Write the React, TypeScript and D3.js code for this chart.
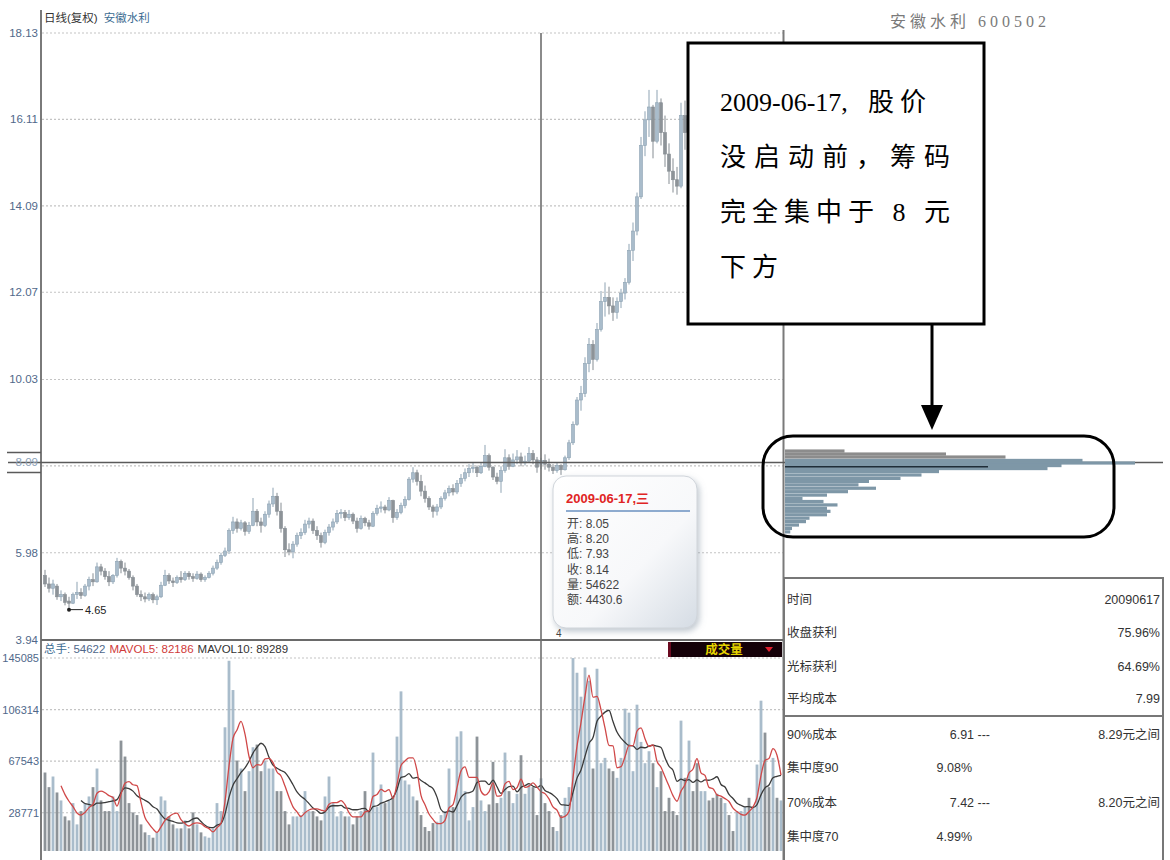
import React from 'react';
import * as d3 from 'd3';

// Daily bars of 安徽水利 (600502), indexed by trading day.
const openPrices = [
  5.45, 5.25, 5.15, 5.2, 4.95, 5.0, 4.85, 4.8, 5.0, 5.05,
  4.98, 5.2, 5.35, 5.3, 5.65, 5.55, 5.42, 5.3, 5.45, 5.78,
  5.62, 5.55, 5.4, 5.2, 5.0, 4.95, 4.9, 5.0, 4.88, 4.95,
  5.22, 5.45, 5.32, 5.28, 5.4, 5.35, 5.5, 5.42, 5.38, 5.48,
  5.35, 5.4, 5.5, 5.62, 5.75, 5.92, 6.02, 6.5, 6.7, 6.55,
  6.68, 6.48, 6.62, 6.95, 6.7, 6.62, 6.88, 7.12, 7.3, 6.95,
  6.55, 6.05, 6.0, 6.18, 6.38, 6.45, 6.65, 6.72, 6.5, 6.38,
  6.22, 6.45, 6.58, 6.7, 6.9, 6.92, 6.8, 6.88, 6.72, 6.55,
  6.78, 6.68, 6.6, 6.9, 7.02, 7.05, 6.98, 7.2, 6.8, 6.92,
  7.08, 7.22, 7.7, 7.85, 7.65, 7.42, 7.25, 7.05, 6.95, 7.05,
  7.25, 7.38, 7.48, 7.4, 7.6, 7.72, 7.85, 7.95, 7.98, 7.85,
  8.0, 8.25, 7.98, 7.75, 7.65, 7.9, 8.2, 8.0, 8.15, 8.22,
  8.08, 8.12, 8.3, 8.15, 8.05, 8.14, 8.05, 7.98, 7.9, 8.02,
  7.92, 8.2, 8.55, 8.98, 9.55, 9.7, 10.4, 10.85, 10.5, 11.2,
  11.85, 11.95, 11.75, 11.6, 11.85, 12.05, 12.3, 13.05, 13.5, 14.3,
  15.5, 16.1, 16.4, 15.6, 16.5, 15.8, 15.3, 14.9, 14.7, 14.55,
  16.2, 15.8, 16.2, 15.9, 15.5, 15.7, 16.05, 15.85, 15.55, 15.4,
  15.2, 15.35, 15.1, 14.95, 15.15, 15.3, 15.45, 15.3, 15.6, 16.2,
  16.6, 16.3, 16.1, 16.5, 16.15,
];
const highPrices = [
  5.58, 5.4, 5.35, 5.25, 5.1, 5.05, 4.95, 5.05, 5.3, 5.15,
  5.25, 5.42, 5.5, 5.75, 5.72, 5.62, 5.55, 5.48, 5.86, 5.82,
  5.75, 5.6, 5.45, 5.25, 5.1, 5.05, 5.05, 5.05, 5.0, 5.3,
  5.58, 5.5, 5.4, 5.45, 5.55, 5.55, 5.55, 5.5, 5.55, 5.52,
  5.45, 5.55, 5.68, 5.82, 5.98, 6.1, 6.55, 6.82, 6.78, 6.75,
  6.72, 6.7, 7.26, 7.0, 6.8, 6.95, 7.2, 7.5, 7.38, 7.15,
  6.6, 6.2, 6.25, 6.45, 6.55, 6.75, 6.8, 6.78, 6.6, 6.45,
  6.52, 6.65, 6.78, 6.98, 7.0, 6.98, 6.98, 6.92, 6.8, 6.85,
  6.82, 6.75, 6.95, 7.1, 7.18, 7.1, 7.28, 7.22, 7.0, 7.15,
  7.3, 7.75, 7.98, 7.92, 7.8, 7.55, 7.3, 7.1, 7.12, 7.3,
  7.45, 7.55, 7.58, 7.68, 7.82, 7.95, 8.05, 8.1, 8.02, 8.08,
  8.5, 8.3, 8.0, 7.85, 8.0, 8.4, 8.28, 8.3, 8.38, 8.32,
  8.25, 8.45, 8.38, 8.22, 8.2, 8.28, 8.18, 8.05, 8.1, 8.05,
  8.25, 8.62, 9.05, 9.62, 9.88, 10.55, 11.0, 10.95, 11.35, 12.1,
  12.3, 12.2, 11.95, 11.95, 12.15, 12.4, 13.2, 13.7, 14.4, 15.7,
  16.3, 16.8, 16.45, 16.8, 16.6, 16.2, 15.55, 15.2, 15.0, 16.5,
  16.55, 16.4, 16.5, 16.1, 15.9, 16.2, 16.3, 16.0, 15.8, 15.6,
  15.5, 15.45, 15.3, 15.25, 15.4, 15.55, 15.6, 15.7, 16.3, 16.9,
  16.8, 16.5, 16.7, 16.6, 16.4,
];
const lowPrices = [
  5.18, 5.05, 5.0, 4.88, 4.85, 4.75, 4.65, 4.78, 4.9, 4.9,
  4.95, 5.1, 5.2, 5.28, 5.45, 5.35, 5.2, 5.25, 5.4, 5.5,
  5.45, 5.35, 5.1, 4.95, 4.85, 4.82, 4.85, 4.8, 4.76, 4.92,
  5.2, 5.25, 5.18, 5.25, 5.28, 5.32, 5.35, 5.3, 5.35, 5.3,
  5.3, 5.38, 5.45, 5.58, 5.7, 5.88, 5.95, 6.42, 6.45, 6.5,
  6.38, 6.42, 6.6, 6.6, 6.45, 6.58, 6.8, 7.05, 6.85, 6.45,
  5.88, 5.92, 5.85, 6.12, 6.3, 6.4, 6.55, 6.42, 6.28, 6.1,
  6.18, 6.38, 6.5, 6.65, 6.78, 6.72, 6.75, 6.65, 6.45, 6.52,
  6.6, 6.52, 6.58, 6.85, 6.92, 6.9, 6.95, 6.68, 6.75, 6.88,
  7.02, 7.2, 7.62, 7.55, 7.3, 7.15, 6.98, 6.8, 6.85, 7.0,
  7.2, 7.3, 7.32, 7.35, 7.52, 7.65, 7.75, 7.85, 7.75, 7.82,
  7.98, 7.9, 7.68, 7.58, 7.38, 7.85, 7.92, 7.98, 8.05, 8.0,
  8.02, 8.1, 8.05, 7.85, 7.93, 7.92, 7.88, 7.82, 7.85, 7.8,
  7.9, 8.15, 8.5, 8.95, 9.3, 9.62, 10.2, 10.25, 10.45, 11.15,
  11.5, 11.55, 11.4, 11.45, 11.7, 11.9, 12.25, 12.8, 13.4, 14.25,
  15.25, 15.7, 15.2, 15.55, 15.5, 15.0, 14.6, 14.4, 14.35, 14.5,
  15.4, 15.6, 15.7, 15.3, 15.2, 15.6, 15.7, 15.4, 15.2, 15.0,
  14.9, 15.0, 14.8, 14.85, 15.0, 15.1, 15.2, 15.25, 15.55, 16.0,
  16.1, 15.9, 16.0, 16.0, 15.9,
];
const closePrices = [
  5.25, 5.15, 5.25, 4.95, 5.0, 4.82, 4.8, 5.0, 5.05, 4.98,
  5.2, 5.35, 5.3, 5.65, 5.55, 5.42, 5.3, 5.45, 5.78, 5.62,
  5.55, 5.4, 5.2, 5.0, 4.95, 4.9, 5.0, 4.88, 4.95, 5.22,
  5.45, 5.32, 5.28, 5.4, 5.35, 5.5, 5.42, 5.38, 5.48, 5.35,
  5.4, 5.5, 5.62, 5.75, 5.92, 6.02, 6.5, 6.7, 6.55, 6.68,
  6.48, 6.62, 6.95, 6.7, 6.62, 6.88, 7.12, 7.3, 6.95, 6.55,
  6.05, 6.0, 6.18, 6.38, 6.45, 6.65, 6.72, 6.5, 6.38, 6.22,
  6.45, 6.58, 6.7, 6.9, 6.92, 6.8, 6.88, 6.72, 6.55, 6.78,
  6.68, 6.6, 6.9, 7.02, 7.05, 6.98, 7.2, 6.8, 6.92, 7.08,
  7.22, 7.7, 7.85, 7.65, 7.42, 7.25, 7.05, 6.95, 7.05, 7.25,
  7.38, 7.48, 7.4, 7.6, 7.72, 7.85, 7.95, 7.98, 7.85, 8.0,
  8.25, 7.98, 7.75, 7.65, 7.9, 8.2, 8.0, 8.15, 8.22, 8.08,
  8.12, 8.3, 8.15, 7.98, 8.14, 8.05, 7.98, 7.9, 8.02, 7.92,
  8.2, 8.55, 8.98, 9.55, 9.7, 10.4, 10.85, 10.5, 11.2, 11.85,
  11.95, 11.75, 11.6, 11.85, 12.05, 12.3, 13.05, 13.5, 14.3, 15.5,
  16.1, 16.4, 15.6, 16.5, 15.8, 15.3, 14.9, 14.7, 14.55, 16.2,
  15.8, 16.2, 15.9, 15.5, 15.7, 16.05, 15.85, 15.55, 15.4, 15.2,
  15.35, 15.1, 14.95, 15.15, 15.3, 15.45, 15.3, 15.6, 16.2, 16.6,
  16.3, 16.1, 16.5, 16.15, 16.2,
];
// 成交量 (手)
const volumes = [
  59000, 48000, 56000, 44000, 38000, 26000, 23000, 36000, 20000, 30000,
  36000, 41000, 48000, 62000, 38000, 30000, 30000, 41000, 30000, 83000,
  71000, 36000, 29000, 27000, 20000, 14000, 12000, 10000, 14000, 41000,
  38000, 26000, 20000, 17000, 17000, 23000, 17000, 29000, 20000, 14000,
  11000, 10000, 17000, 36000, 30000, 93000, 143000, 121000, 68000, 62000,
  45000, 60000, 78000, 80000, 60000, 68000, 62000, 62000, 45000, 45000,
  30000, 20000, 26000, 26000, 27000, 45000, 30000, 30000, 26000, 23000,
  41000, 56000, 36000, 26000, 30000, 26000, 26000, 20000, 26000, 30000,
  45000, 30000, 74000, 33000, 50000, 36000, 38000, 41000, 86000, 120000,
  53000, 50000, 41000, 38000, 27000, 18000, 15000, 21000, 22000, 27000,
  30000, 62000, 33000, 86000, 90000, 45000, 23000, 33000, 86000, 38000,
  30000, 35000, 67000, 36000, 40000, 74000, 45000, 36000, 43000, 72000,
  43000, 50000, 48000, 27000, 54622, 36000, 30000, 18000, 15000, 27000,
  40000, 48000, 145000, 134000, 116000, 138000, 128000, 62000, 137000, 66000,
  70000, 62000, 60000, 55000, 70000, 107000, 104000, 60000, 110000, 82000,
  66000, 75000, 66000, 48000, 60000, 30000, 40000, 30000, 27000, 98000,
  55000, 83000, 45000, 66000, 45000, 45000, 38000, 40000, 43000, 40000,
  36000, 27000, 15000, 30000, 30000, 33000, 40000, 33000, 65000, 113000,
  89000, 48000, 70000, 40000, 38000,
];

const priceTicks = [18.13, 16.11, 14.09, 12.07, 10.03, 8.01, 5.98, 3.94];
const priceTickLabels = ['18.13', '16.11', '14.09', '12.07', '10.03', '', '5.98', '3.94'];
const volumeTicks = [145085, 106314, 67543, 28771];

// 筹码分布: price level -> share of chips
const chipPrices = [
  8.36, 8.29, 8.22, 8.14, 8.08, 8.02, 7.95, 7.88, 7.8, 7.72, 7.65, 7.57, 7.49,
  7.41, 7.33, 7.25, 7.18, 7.1, 7.02, 6.95, 6.87, 6.79, 6.71, 6.63, 6.55, 6.47,
];
const chipShares = [
  17, 46, 63, 85, 100, 79, 75, 44, 39, 33, 24, 21, 26,
  18, 12, 5, 11, 15, 12, 13, 12, 7, 6, 4, 2, 1.5,
];
const avgCost = 7.99;
const avgCostShare = 58;

const cursorIndex = 124;
const cursorPrice = 8.09;
const cursorDate = '2009-06-17,三';
const lowMarkIndex = 6;

const tooltipRows = [
  ['开', '8.05'],
  ['高', '8.20'],
  ['低', '7.93'],
  ['收', '8.14'],
  ['量', '54622'],
  ['额', '4430.6'],
];

const statRows = [
  ['时间', '', '20090617'],
  ['收盘获利', '', '75.96%'],
  ['光标获利', '', '64.69%'],
  ['平均成本', '', '7.99'],
  ['90%成本', '6.91 ---', '8.29元之间'],
  ['集中度90', '9.08%', ''],
  ['70%成本', '7.42 ---', '8.20元之间'],
  ['集中度70', '4.99%', ''],
];

const SANS = '"Liberation Sans", Arial, "Noto Sans CJK SC", sans-serif';
const SERIF = '"Liberation Serif", "Times New Roman", "Noto Sans CJK SC", serif';
const AXIS_COLOR = '#50688a';
const UP_FILL = '#a9bccb';
const UP_STROKE = '#8ea3b3';
const DOWN_FILL = '#8d9398';

function movingAverage(values: number[], w: number): (number | null)[] {
  return values.map((_, i) => (i < w - 1 ? null : (d3.mean(values.slice(i - w + 1, i + 1)) as number)));
}

export default function App() {
  const W = 1170;
  const H = 860;
  const n = volumes.length;

  const x = d3.scaleBand<number>().domain(d3.range(n)).range([43, 783]);
  const cx = (i: number) => (x(i) ?? 0) + x.bandwidth() / 2;
  const yP = d3.scaleLinear().domain([3.94, 18.13]).range([640, 33]);
  const yV = d3.scaleLinear().domain([0, 145085]).range([851, 658]);
  const chipX = d3.scaleLinear().domain([0, 100]).range([785, 1135]);

  const ma5 = movingAverage(volumes, 5);
  const ma10 = movingAverage(volumes, 10);
  const maLine = d3
    .line<number | null>()
    .defined((d) => d != null)
    .x((_, i) => cx(i))
    .y((d) => yV(d as number))
    .curve(d3.curveMonotoneX);

  const isUp = (i: number) => closePrices[i] >= openPrices[i];
  const cursorX = cx(cursorIndex);
  const cursorY = yP(cursorPrice);
  const cursorClose = closePrices[cursorIndex];
  const chipStep = Math.abs(yP(chipPrices[0]) - yP(chipPrices[1]));

  return (
    <svg
      width={W}
      height={H}
      viewBox={`0 0 ${W} ${H}`}
      style={{ position: 'absolute', left: 0, top: 0, background: '#fff' }}
    >
      <defs>
        <linearGradient id="tipFill" x1="0" y1="0" x2="1" y2="1">
          <stop offset="0%" stopColor="#ffffff" />
          <stop offset="60%" stopColor="#f7f8fa" />
          <stop offset="100%" stopColor="#d5dce4" />
        </linearGradient>
        <filter id="tipShadow" x="-20%" y="-20%" width="140%" height="140%">
          <feDropShadow dx="2" dy="3" stdDeviation="3" floodColor="#8090a0" floodOpacity="0.5" />
        </filter>
      </defs>

      <rect x={0} y={0} width={W} height={H} fill="#fff" />

      {/* price grid */}
      {priceTicks.map((t, k) => (
        <g key={`pt${k}`}>
          <line x1={42} x2={783} y1={yP(t)} y2={yP(t)} stroke="#c4c4c4" strokeWidth={1.2} strokeDasharray="2,2" />
          {priceTickLabels[k] && (
            <text x={38} y={yP(t) + 4} textAnchor="end" fontSize={11.5} fontFamily={SANS} fill={AXIS_COLOR}>
              {priceTickLabels[k]}
            </text>
          )}
        </g>
      ))}

      {/* volume grid */}
      {volumeTicks.map((t, k) => (
        <g key={`vt${k}`}>
          <line x1={42} x2={783} y1={yV(t)} y2={yV(t)} stroke="#c4c4c4" strokeWidth={1.2} strokeDasharray="2,2" />
          <text x={39} y={yV(t) + 4} textAnchor="end" fontSize={11} fontFamily={SANS} fill={AXIS_COLOR}>
            {t}
          </text>
        </g>
      ))}

      {/* candles */}
      {closePrices.map((c, i) => {
        const o = openPrices[i];
        const up = isUp(i);
        const top = yP(Math.max(o, c));
        const bot = yP(Math.min(o, c));
        return (
          <g key={`c${i}`}>
            <line
              x1={cx(i)}
              x2={cx(i)}
              y1={yP(highPrices[i])}
              y2={yP(lowPrices[i])}
              stroke={up ? UP_STROKE : '#868d93'}
              strokeWidth={1}
            />
            <rect
              x={cx(i) - 1.5}
              y={top}
              width={3}
              height={Math.max(1.2, bot - top)}
              fill={up ? UP_FILL : DOWN_FILL}
              stroke={up ? UP_STROKE : '#868d93'}
              strokeWidth={0.6}
            />
          </g>
        );
      })}

      {/* volume bars */}
      {volumes.map((v, i) => (
        <rect
          key={`v${i}`}
          x={cx(i) - 1.4}
          y={yV(v)}
          width={2.8}
          height={yV(0) - yV(v)}
          fill={isUp(i) ? UP_FILL : DOWN_FILL}
        />
      ))}

      {/* volume moving averages */}
      <path d={maLine(ma10) ?? ''} fill="none" stroke="#3a3a3a" strokeWidth={1.3} />
      <path d={maLine(ma5) ?? ''} fill="none" stroke="#d04848" strokeWidth={1.3} />

      {/* frame */}
      <line x1={41} x2={41} y1={10} y2={H} stroke="#7a7a7a" strokeWidth={2} />
      <line x1={783.5} x2={783.5} y1={30} y2={H} stroke="#7a7a7a" strokeWidth={2} />
      <line x1={41} x2={783} y1={640} y2={640} stroke="#6a6a6a" strokeWidth={2} />

      {/* crosshair */}
      <line x1={cursorX} x2={cursorX} y1={33} y2={851} stroke="#6e6e6e" strokeWidth={1.6} />
      <line x1={8} x2={1163} y1={cursorY} y2={cursorY} stroke="#5a5a5a" strokeWidth={1.6} />
      <line x1={7} x2={41} y1={cursorY - 10} y2={cursorY - 10} stroke="#5a5a5a" strokeWidth={1.6} />
      <line x1={7} x2={41} y1={cursorY + 10} y2={cursorY + 10} stroke="#5a5a5a" strokeWidth={1.6} />
      <text x={38} y={cursorY + 4} textAnchor="end" fontSize={11.5} fontFamily={SANS} fill="#8aa0b8">
        {cursorPrice.toFixed(2)}
      </text>

      {/* low marker */}
      <circle cx={cx(lowMarkIndex)} cy={yP(lowPrices[lowMarkIndex])} r={2} fill="#222" />
      <line
        x1={cx(lowMarkIndex)}
        x2={cx(lowMarkIndex) + 14}
        y1={yP(lowPrices[lowMarkIndex])}
        y2={yP(lowPrices[lowMarkIndex])}
        stroke="#222"
        strokeWidth={1}
      />
      <text x={cx(lowMarkIndex) + 16} y={yP(lowPrices[lowMarkIndex]) + 4} fontSize={11} fontFamily={SANS} fill="#222">
        {lowPrices[lowMarkIndex].toFixed(2)}
      </text>

      {/* titles */}
      <text x={44} y={22} fontSize={11.5} fontFamily={SANS}>
        <tspan fill="#333">日线(复权)</tspan>
        <tspan fill="#3c6c92" dx={6}>安徽水利</tspan>
      </text>
      <text x={890} y={27} fontSize={16} fontFamily={SERIF} fill="#7a7a7a" letterSpacing={4}>
        安徽水利 600502
      </text>

      {/* volume header */}
      <text x={44} y={653} fontSize={11.5} fontFamily={SANS}>
        <tspan fill="#3c6c92">总手</tspan>
        <tspan fill="#50688a">: {volumes[cursorIndex]}</tspan>
        <tspan fill="#d03a3a" dx={4}>MAVOL5: 82186</tspan>
        <tspan fill="#333" dx={4}>MAVOL10: 89289</tspan>
      </text>
      <rect x={668} y={642} width={114} height={15} fill="#140008" />
      <rect x={668} y={642} width={3} height={15} fill="#6a0a20" />
      <text x={724} y={654} textAnchor="middle" fontSize={12.5} fontFamily={SANS} fill="#e6d400" fontWeight="bold">
        成交量
      </text>
      <path d="M765,647 L773,647 L769,652 Z" fill="#e02030" />

      {/* chip distribution */}
      {chipPrices.map((p, k) => (
        <rect
          key={`chip${k}`}
          x={chipX(0)}
          y={yP(p) - chipStep / 2}
          width={chipX(chipShares[k]) - chipX(0)}
          height={chipStep + 0.2}
          fill={p > cursorClose ? '#8c8c8c' : '#7e97a7'}
        />
      ))}
      <line
        x1={chipX(0)}
        x2={chipX(avgCostShare)}
        y1={yP(avgCost)}
        y2={yP(avgCost)}
        stroke="#1f2d38"
        strokeWidth={1.5}
      />

      {/* tooltip */}
      <g filter="url(#tipShadow)">
        <rect x={553} y={476} width={144} height={152} rx={13} fill="url(#tipFill)" stroke="#cfd4da" />
      </g>
      <text x={566} y={503} fontSize={13} fontFamily={SANS} fill="#e02424" fontWeight="bold">
        {cursorDate}
      </text>
      <line x1={566} x2={690} y1={511} y2={511} stroke="#6a90c0" strokeWidth={1.4} />
      {tooltipRows.map((r, k) => (
        <text key={`tr${k}`} x={567} y={528 + k * 15.2} fontSize={12} fontFamily={SANS} fill="#444">
          {r[0]}: {r[1]}
        </text>
      ))}
      <text x={556} y={637} fontSize={10} fontFamily={SANS} fill="#444">
        4
      </text>

      {/* statistics table */}
      <rect x={784} y={578} width={379} height={290} fill="none" stroke="#777" strokeWidth={2} />
      <line x1={784} x2={1163} y1={716} y2={716} stroke="#777" strokeWidth={2} />
      {statRows.map((r, k) => {
        const y = [604, 637, 671, 703, 739, 772, 807, 841][k];
        return (
          <g key={`sr${k}`} fontSize={12.5} fontFamily={SANS} fill="#333">
            <text x={787} y={y}>{r[0]}</text>
            {r[1] && (
              <text x={r[1].includes('---') ? 990 : 972} y={y} textAnchor="end">
                {r[1]}
              </text>
            )}
            {r[2] && (
              <text x={1160} y={y} textAnchor="end">
                {r[2]}
              </text>
            )}
          </g>
        );
      })}

      {/* annotation */}
      <rect x={688} y={43} width={296} height={281} fill="#fff" stroke="#000" strokeWidth={3} />
      <g fontSize={26} fontFamily={SERIF} fill="#000">
        <text x={720} y={111}>2009-06-17,</text>
        <text x={868} y={111} letterSpacing={6}>股价</text>
        <text x={720} y={166} textLength={230} lengthAdjust="spacing">没启动前，筹码</text>
        <text x={720} y={221} textLength={230} lengthAdjust="spacing">完全集中于 8 元</text>
        <text x={720} y={276} letterSpacing={6}>下方</text>
      </g>
      <line x1={932} x2={932} y1={324} y2={410} stroke="#000" strokeWidth={3} />
      <path d="M921,405 L943,405 L932,430 Z" fill="#000" />
      <rect x={763} y={436} width={351} height={101} rx={30} ry={30} fill="none" stroke="#000" strokeWidth={3} />
    </svg>
  );
}
